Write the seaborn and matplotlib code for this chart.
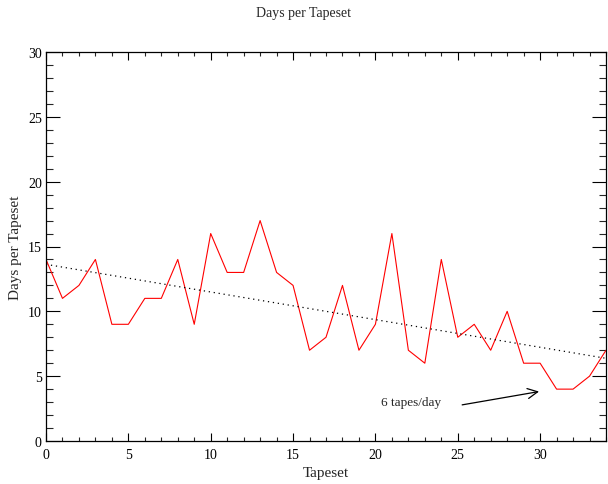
import numpy as np
import pandas as pd
import matplotlib
matplotlib.use("Agg")
import matplotlib.pyplot as plt
import seaborn as sns
from matplotlib.ticker import MultipleLocator

# Data
tapeset = list(range(35))
days = [14, 11, 12, 14, 9, 9, 11, 11, 14, 9,
        16, 13, 13, 17, 13, 12, 7, 8, 12, 7,
        9, 16, 7, 6, 14, 8, 9, 7, 10, 6,
        6, 4, 4, 5, 7]

df = pd.DataFrame({"Tapeset": tapeset, "Days": days})

# Linear trend of the series
slope, intercept = np.polyfit(df["Tapeset"], df["Days"], 1)
df["Trend"] = intercept + slope * df["Tapeset"]

sns.set_theme(style="white")
plt.rcParams["font.family"] = ["Liberation Serif", "DejaVu Serif"]

fig = plt.figure(figsize=(6.08, 4.85), dpi=100)
ax = fig.add_axes([46 / 608, 1 - 442 / 485, 560 / 608, 389 / 485])

sns.lineplot(data=df, x="Tapeset", y="Days", color="red", linewidth=0.8, ax=ax)
sns.lineplot(data=df, x="Tapeset", y="Trend", color="black", linewidth=0.9,
             linestyle=(0, (1, 3)), ax=ax)

ax.set_xlim(0, 34)
ax.set_ylim(0, 30)
ax.xaxis.set_major_locator(MultipleLocator(5))
ax.xaxis.set_minor_locator(MultipleLocator(1))
ax.yaxis.set_major_locator(MultipleLocator(5))
ax.yaxis.set_minor_locator(MultipleLocator(1))

ax.tick_params(axis="x", which="major", direction="in", length=6, width=0.8,
               top=True, bottom=True, labelsize=10, pad=5, colors="black")
ax.tick_params(axis="x", which="minor", direction="in", length=3, width=0.8,
               top=True, bottom=True)
ax.tick_params(axis="y", which="major", direction="in", length=10, width=0.8,
               left=True, right=True, labelsize=10, pad=3, colors="black")
ax.tick_params(axis="y", which="minor", direction="in", length=5, width=0.8,
               left=True, right=True)

for side in ax.spines.values():
    side.set_color("black")
    side.set_linewidth(0.9)

ax.set_xlabel("Tapeset", fontsize=11, labelpad=4)
ax.set_ylabel("Days per Tapeset", fontsize=11, labelpad=4)
fig.text(0.5, 1 - 14 / 485, "Days per Tapeset", ha="center", va="center", fontsize=10)

ax.annotate("", xy=(30.1, 3.85), xytext=(25.1, 2.75),
            arrowprops=dict(arrowstyle="->", color="black", lw=0.9,
                            mutation_scale=18))
ax.text(24.0, 3.0, "6 tapes/day", ha="right", va="center", fontsize=9.5)

fig.savefig("out.png", dpi=100)
